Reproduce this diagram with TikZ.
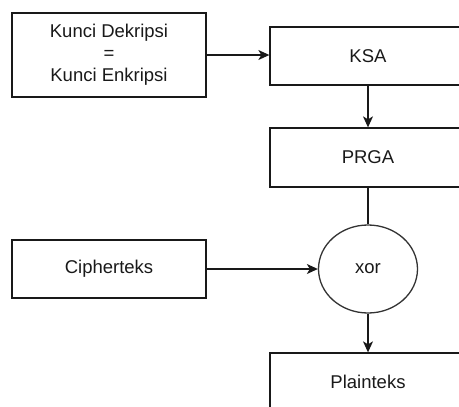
\documentclass[tikz,border=0pt]{standalone}
\usepackage{fontspec}
\setmainfont{Liberation Sans}
\usetikzlibrary{arrows.meta,shapes.geometric}
\begin{document}
\begin{tikzpicture}[x=1pt,y=-1pt,
  box/.style={draw=black!90, line width=1.3pt, minimum width=194pt, inner sep=0pt,
    font=\fontsize{18.5}{22}\selectfont, align=center, text=black!90},
  arr/.style={-{Stealth[length=11pt,width=10pt,inset=3pt]}, line width=1.2pt, draw=black!90},
  ln/.style={line width=1.2pt, draw=black!90}]
\useasboundingbox (0,0) rectangle (459,407);
\node[box, minimum height=84pt] (key) at (109,55) {Kunci Dekripsi\\=\\Kunci Enkripsi};
\node[box, minimum height=58pt, minimum width=196pt] (ksa) at (368,56) {KSA};
\node[box, minimum height=59pt, minimum width=196pt] (prga) at (368,157.5) {PRGA};
\node[draw=black!80, line width=1.3pt, ellipse, minimum width=99pt, minimum height=88pt, inner sep=0pt,
  font=\fontsize{18.5}{22}\selectfont, text=black!90] (xor) at (368,269) {xor};
\node[box, minimum height=58pt] (ciph) at (109,269) {Cipherteks};
\node[box, minimum height=58pt, minimum width=196pt] (plain) at (368,382) {Plainteks};
\draw[arr] (key.east) -- (key.east -| ksa.west);
\draw[arr] (ksa) -- (prga);
\draw[ln] (prga) -- (xor);
\draw[arr] (ciph) -- (xor);
\draw[arr] (xor) -- (plain);
\end{tikzpicture}
\end{document}
